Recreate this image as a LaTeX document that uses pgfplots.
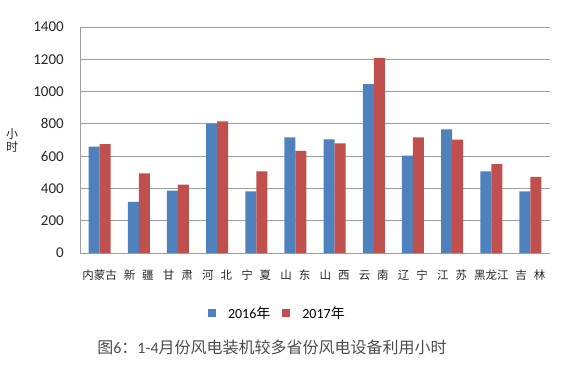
\documentclass[border=0pt]{standalone}
\usepackage{pgfplots}
\pgfplotsset{compat=1.18}
\usepackage{fontspec}
\setmainfont{Carlito}
\newfontfamily\cjk{Noto Sans CJK SC}
\definecolor{b16}{HTML}{4F81BD}
\definecolor{r17}{HTML}{C0504D}
\newcommand{\gapsp}{\hspace{0.6em}}
\begin{document}
\begin{tikzpicture}
\useasboundingbox (0,0) rectangle (571pt,373pt);
\begin{axis}[
  at={(80pt,120pt)}, anchor=south west,
  scale only axis, width=470pt, height=226pt,
  ybar=0pt, bar width=11pt,
  ymin=0, ymax=1400, ytick={0,200,...,1400},
  xmin=-0.5, xmax=11.5, xtick={0,...,11},
  xticklabels={内蒙古,新\gapsp 疆,甘\gapsp 肃,河\gapsp 北,宁\gapsp 夏,山\gapsp 东,山\gapsp 西,云\gapsp 南,辽\gapsp 宁,江\gapsp 苏,黑龙江,吉\gapsp 林},
  axis x line*=bottom, axis y line*=left,
  axis line style={draw=gray!75, line width=0.8pt, -},
  ymajorgrids, grid style={draw=gray!75, line width=0.8pt},
  major tick length=0pt,
  /pgf/number format/assume math mode=true,
  /pgf/number format/1000 sep={},
  yticklabel style={font=\fontsize{15}{15}\selectfont, text=black!85, inner sep=0pt, xshift=-16pt},
  xticklabel style={font=\cjk\fontsize{11.5}{11.5}\selectfont, text=black!85, inner sep=0pt, yshift=-17pt},
  legend style={at={(0.42,-0.265)}, anchor=center, draw=none, legend columns=2,
    font=\fontsize{14}{14}\selectfont, column sep=10pt, inner sep=0pt},
  legend image code/.code={\fill[#1] (0pt,-4pt) rectangle (8pt,4pt);},
]
\addplot[fill=b16, draw=none] coordinates {(0,659) (1,317) (2,387) (3,801) (4,381) (5,716) (6,704) (7,1046) (8,603) (9,766) (10,506) (11,381)};
\addplot[fill=r17, draw=none] coordinates {(0,675) (1,494) (2,424) (3,815) (4,506) (5,632) (6,679) (7,1209) (8,716) (9,702) (10,550) (11,471)};
\legend{2016{\cjk 年},2017{\cjk 年}}
\end{axis}
\node[font=\cjk\fontsize{12}{13}\selectfont, align=center, text=black!85] at (12pt,233pt) {小\\时};
\node[font=\fontsize{16}{16}\selectfont, text=black!70] at (272pt,26pt) {{\cjk 图}6{\cjk ：}1-4{\cjk 月份风电装机较多省份风电设备利用小时}};
\end{tikzpicture}
\end{document}
